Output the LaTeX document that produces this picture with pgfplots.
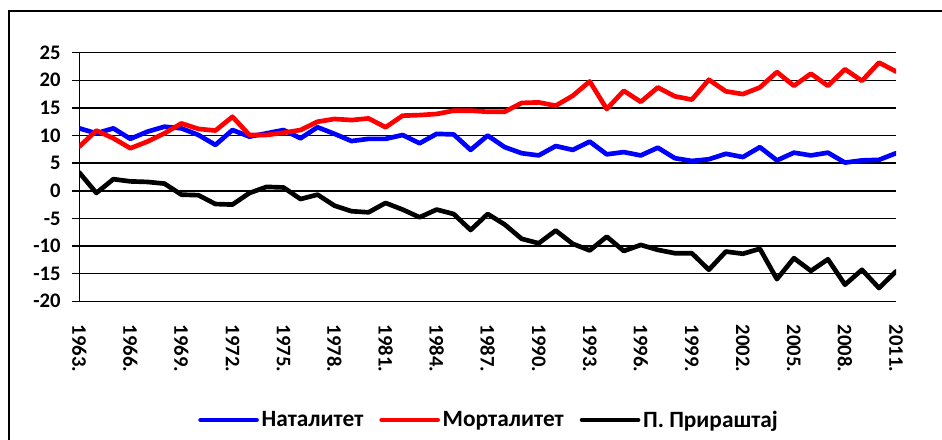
\documentclass[border=0pt]{standalone}
\usepackage{fontspec}
\setmainfont{Carlito}
\usepackage{pgfplots}
\pgfplotsset{compat=1.18}
\usepackage{pgfplotstable}

\pgfplotstableread{
year nat mort pp
1963 11.3 8.0 3.3
1964 10.4 10.9 -0.4
1965 11.3 9.5 2.1
1966 9.4 7.7 1.7
1967 10.7 8.9 1.6
1968 11.6 10.4 1.3
1969 11.3 12.2 -0.7
1970 10.1 11.2 -0.8
1971 8.3 10.9 -2.4
1972 11.0 13.4 -2.5
1973 9.8 10.1 -0.4
1974 10.4 10.1 0.7
1975 11.0 10.5 0.6
1976 9.5 11.0 -1.5
1977 11.5 12.5 -0.7
1978 10.3 13.0 -2.7
1979 9.0 12.8 -3.7
1980 9.4 13.1 -3.9
1981 9.4 11.5 -2.2
1982 10.1 13.6 -3.4
1983 8.6 13.7 -4.8
1984 10.3 13.9 -3.4
1985 10.2 14.5 -4.2
1986 7.4 14.5 -7.1
1987 10.0 14.3 -4.2
1988 7.9 14.3 -6.1
1989 6.8 15.9 -8.7
1990 6.4 16.0 -9.5
1991 8.1 15.4 -7.2
1992 7.4 17.2 -9.6
1993 8.9 19.8 -10.8
1994 6.6 14.8 -8.3
1995 7.0 18.1 -10.9
1996 6.4 16.1 -9.8
1997 7.8 18.7 -10.7
1998 5.9 17.1 -11.3
1999 5.4 16.5 -11.3
2000 5.7 20.1 -14.3
2001 6.7 18.0 -11.0
2002 6.1 17.5 -11.4
2003 7.9 18.7 -10.5
2004 5.5 21.5 -16.0
2005 6.9 19.0 -12.2
2006 6.4 21.2 -14.5
2007 6.9 19.0 -12.4
2008 5.1 22.0 -17.0
2009 5.5 19.9 -14.3
2010 5.6 23.2 -17.6
2011 6.8 21.6 -14.6
}\datatable

\begin{document}
\begin{tikzpicture}[x=1pt,y=1pt]
\useasboundingbox (0,0) rectangle (706.5,329.25);
\draw[line width=1.5pt] (6.75,-3) -- (6.75,321) -- (712,321);
\begin{axis}[
  at={(59.5pt,103.3pt)}, anchor=south west,
  scale only axis, width=612.5pt, height=186.45pt,
  xmin=1963, xmax=2011, ymin=-20, ymax=25,
  axis x line*=bottom, axis y line*=left,
  axis line style={line width=1.1pt, black},
  ytick={-20,-15,...,25},
  yticklabels={-20,-15,-10,-5,0,5,10,15,20,25},
  xtick={1963,1966,...,2011},
  xticklabels={1963.,1966.,1969.,1972.,1975.,1978.,1981.,1984.,1987.,1990.,1993.,1996.,1999.,2002.,2005.,2008.,2011.},
  ymajorgrids, grid style={black, line width=1.1pt},
  tick align=outside,
  ytick style={black, line width=1.1pt},
  major tick length=5.3pt,
  xtick style={draw=none},
  ticklabel style={font=\bfseries\fontsize{15.5}{17}\selectfont, inner sep=0pt},
  yticklabel style={anchor=east},
  xticklabel style={rotate=-90, anchor=west},
  yticklabel shift=8.5pt,
  xticklabel shift=12pt,
  legend columns=3,
  legend style={at={(0.1453,-0.4775)}, anchor=west, draw=none, fill=none,
    inner sep=0pt, font=\bfseries\fontsize{17.5}{19}\selectfont,
    /tikz/every even column/.append style={column sep=10pt}},
  legend image code/.code={\draw[#1] (0pt,0pt) -- (42pt,0pt);},
  every axis plot/.append style={line width=3.5pt, line join=round, line cap=round},
]
\addplot[blue, no markers] table[x=year, y=nat] {\datatable};
\addlegendentry{Наталитет}
\addplot[red, no markers] table[x=year, y=mort] {\datatable};
\addlegendentry{Морталитет}
\addplot[black, no markers] table[x=year, y=pp] {\datatable};
\addlegendentry{П. Прираштај}
\end{axis}
\end{tikzpicture}
\end{document}
